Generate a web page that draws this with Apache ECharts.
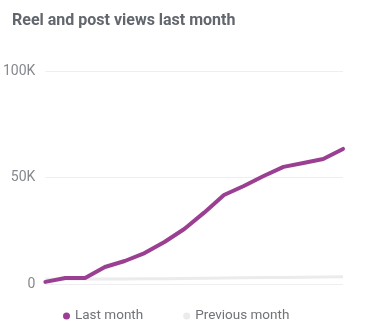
<!DOCTYPE html>
<html>
<head>
<meta charset="utf-8">
<script src="https://cdn.jsdelivr.net/npm/echarts@6/dist/echarts.min.js"></script>
<style>
html,body{margin:0;padding:0;background:#fff;}
#c{width:375px;height:334px;}
</style>
</head>
<body>
<div id="c"></div>
<script>
const titleText = 'Reel and post views last month';
const days = ['1','2','3','4','5','6','7','8','9','10','11','12','13','14','15','16'];
const lastMonth = [1000, 2800, 2800, 8000, 10800, 14500, 19700, 25800, 33500, 41800, 46000, 50700, 55000, 56800, 58700, 63400];
const previousMonth = [2200, 2300, 2300, 2400, 2400, 2500, 2500, 2600, 2700, 2800, 2900, 3000, 3100, 3200, 3300, 3400];
const seriesNames = ['Last month', 'Previous month'];
const yTicks = [0, 50000, 100000];

const chart = echarts.init(document.getElementById('c'));
chart.setOption({
  animation: false,
  title: {
    text: titleText, left: 7, top: 8,
    textStyle: {fontFamily: 'Roboto', fontWeight: 'bold', fontSize: 16, color: '#62666d'}
  },
  legend: {
    left: 58, top: 304,
    icon: 'circle', itemWidth: 7, itemHeight: 7, itemGap: 40,
    textStyle: {fontFamily: 'Roboto', fontSize: 13.5, color: '#707378', padding: [0,0,0,0]},
    data: seriesNames
  },
  grid: {left: 44, right: 32, top: 71, bottom: 50},
  xAxis: {
    type: 'category', data: days, boundaryGap: false,
    axisLine: {show: false}, axisTick: {show: false}, axisLabel: {show: false}
  },
  yAxis: {
    type: 'value', min: yTicks[0], max: yTicks[yTicks.length-1], interval: 50000,
    axisLine: {show: false}, axisTick: {show: false},
    axisLabel: {
      fontFamily: 'Roboto', fontSize: 14, color: '#85888d', margin: 10,
      formatter: v => v === 0 ? '0' : (v/1000) + 'K'
    },
    splitLine: {lineStyle: {color: '#eeeef0', width: 1}}
  },
  series: [
    {
      name: seriesNames[1], type: 'line', data: previousMonth, symbol: 'none',
      lineStyle: {color: '#ebebee', width: 3}, itemStyle: {color: '#ebebee'}, z: 1
    },
    {
      name: seriesNames[0], type: 'line', data: lastMonth, symbol: 'none',
      lineStyle: {color: '#9a3f91', width: 4, cap: 'round', join: 'round'}, itemStyle: {color: '#9a3f91'}, z: 2
    }
  ]
});
</script>
</body>
</html>
